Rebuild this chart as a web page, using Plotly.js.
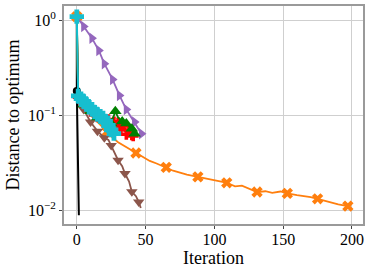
<!DOCTYPE html>
<html>
<head>
<meta charset="utf-8">
<script src="https://cdn.plot.ly/plotly-3.0.1.min.js"></script>
<style>html,body{margin:0;padding:0;background:#fff}#plot{width:371px;height:272px}</style>
</head>
<body>
<div id="plot"></div>
<script>
// ---- data ----
const blackX = [0, 0, 1.5];
const blackY = [1.1, 0.18, 0.0088];

const orangeX = [0, 1, 5, 10, 15, 22, 26, 30, 35, 40, 43, 48, 53, 58, 65, 70, 75, 80, 88, 95, 100, 105, 109, 115, 120, 125, 131, 137, 142, 148, 153, 160, 165, 170, 175, 180, 185, 190, 197];
const orangeY = [1.1, 0.16, 0.125, 0.1, 0.085, 0.067, 0.058, 0.052, 0.047, 0.043, 0.040, 0.036, 0.033, 0.031, 0.0282, 0.026, 0.0248, 0.0236, 0.0224, 0.0212, 0.0205, 0.0199, 0.0194, 0.0178, 0.0181, 0.0168, 0.0155, 0.0158, 0.0152, 0.0157, 0.0150, 0.0144, 0.0141, 0.0137, 0.01315, 0.0125, 0.0119, 0.0115, 0.0110];
const orangeMarked = [0, 22, 43, 65, 88, 109, 131, 153, 175, 197];

const brownX = [0, 1, 5, 10, 15, 20, 23, 25, 28, 30, 33, 35, 38, 40, 43, 45, 46.5];
const brownY = [1.1, 0.15, 0.115, 0.085, 0.068, 0.058, 0.055, 0.048, 0.040, 0.0336, 0.029, 0.0243, 0.020, 0.0156, 0.0140, 0.0122, 0.0105];
const brownMarked = [5, 10, 15, 20, 25, 30, 35, 40, 45];

const purpleX = [0, 5, 11, 16, 20, 26, 31, 36, 42, 47];
const purpleY = [1.1, 0.865, 0.651, 0.483, 0.35, 0.239, 0.162, 0.115, 0.085, 0.064];
const purpleMarked = [5, 11, 16, 20, 26, 31, 36, 42, 47];

const redX = [0, 1, 5, 10, 15, 20, 23, 25, 27, 29, 30, 32, 34, 36, 38, 40, 41];
const redY = [1.1, 0.155, 0.13, 0.11, 0.096, 0.09, 0.09, 0.08, 0.085, 0.078, 0.083, 0.071, 0.077, 0.063, 0.07, 0.062, 0.0605];
const redMarked = [1, 5, 10, 15, 20, 23, 25, 27, 29, 30, 32, 34, 36, 38, 40, 41];

const greenX = [0, 1, 5, 10, 15, 20, 25, 28, 30, 33, 36, 40, 42];
const greenY = [1.1, 0.155, 0.13, 0.11, 0.095, 0.088, 0.082, 0.11, 0.095, 0.086, 0.082, 0.072, 0.064];
const greenMarked = [5, 10, 15, 20, 25, 28, 33, 36, 40, 42];

const cyanX = [0, 1, 3, 5, 7, 9, 11, 13, 15, 17, 19, 21, 23, 25, 27];
const cyanY = [1.1, 0.16, 0.15, 0.14, 0.13, 0.122, 0.116, 0.108, 0.102, 0.098, 0.094, 0.086, 0.078, 0.07, 0.064];
const cyanMarked = [0, 1, 3, 5, 7, 9, 11, 13, 15, 17, 19, 21, 23, 25, 27];

const yTickVals = [1, 0.1, 0.01];
const yTickText = ['10<sup>0</sup>', '10<sup>−1</sup>', '10<sup>−2</sup>'];
const xTickVals = [0, 50, 100, 150, 200];

// ---- styling & traces ----
function sizes(xs, marked, s) {
  return xs.map(x => marked.indexOf(x) >= 0 ? s : 0);
}
function tr(xs, ys, marked, color, symbol, msize, lw) {
  return {
    x: xs, y: ys, type: 'scatter', mode: 'lines+markers',
    line: {color: color, width: lw},
    marker: {color: color, symbol: symbol, size: sizes(xs, marked, msize), opacity: 1, line: {width: 0}},
    showlegend: false, hoverinfo: 'skip'
  };
}
const traces = [
  tr(blackX, blackY, [], '#000000', 'circle', 8, 2),
  tr(orangeX, orangeY, orangeMarked, '#ff7f0e', 'x', 10, 1.8),
  tr(brownX, brownY, brownMarked, '#8c564b', 'triangle-down', 10, 1.8),
  tr(purpleX, purpleY, purpleMarked, '#9467bd', 'triangle-right', 10, 1.8),
  tr(redX, redY, redMarked, '#ff0000', 'cross', 9, 1.5),
  tr(greenX, greenY, greenMarked, '#008000', 'triangle-up', 11, 1.8),
  tr(cyanX, cyanY, cyanMarked, '#17becf', 'cross', 12, 2)
];
// black circle drawn on its second point
traces[0].marker.size = blackY.map((v, i) => i === 1 ? 8 : 0);

const font = 'Liberation Serif, Times New Roman, serif';
const layout = {
  width: 371, height: 272,
  margin: {l: 64, r: 8, t: 6, b: 48},
  paper_bgcolor: '#fff', plot_bgcolor: '#fff',
  font: {family: font, size: 16, color: '#000'},
  xaxis: {
    range: [-9.3, 208], tickvals: xTickVals, ticks: 'outside', ticklen: 3, tickcolor: '#444',
    ticklabelstandoff: -3,
    showgrid: true, gridcolor: '#cfcfcf', gridwidth: 1, zeroline: false,
    showline: true, linecolor: '#9a9a9a', linewidth: 2, mirror: true,
    tickfont: {family: font, size: 16},
    title: {text: 'Iteration', font: {family: font, size: 18}, standoff: 0}
  },
  yaxis: {
    type: 'log', range: [-2.147, 0.153], tickvals: yTickVals, ticktext: yTickText,
    ticks: 'outside', ticklen: 3, tickcolor: '#444',
    showgrid: true, gridcolor: '#cfcfcf', gridwidth: 1, zeroline: false,
    showline: true, linecolor: '#9a9a9a', linewidth: 2, mirror: true,
    tickfont: {family: font, size: 16},
    title: {text: 'Distance to optimum', font: {family: font, size: 18}, standoff: 4}
  }
};
Plotly.newPlot('plot', traces, layout, {displayModeBar: false, staticPlot: true});
</script>
</body>
</html>
